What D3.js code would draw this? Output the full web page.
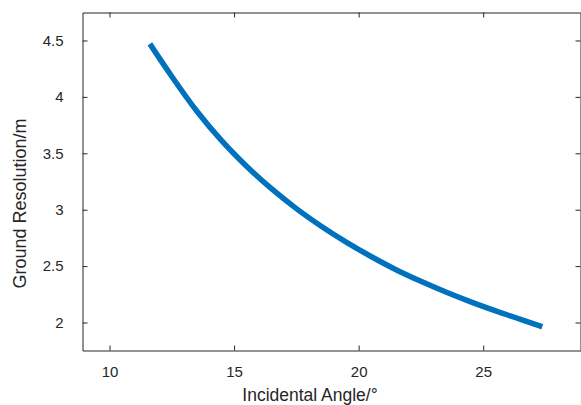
<!DOCTYPE html>
<html>
<head>
<meta charset="utf-8">
<script src="https://cdn.jsdelivr.net/npm/d3@7"></script>
<style>
  html, body { margin: 0; padding: 0; background: #fff; }
  text { font-family: "Liberation Sans", Arial, Helvetica, sans-serif; fill: #262626; }
</style>
</head>
<body>
<svg id="chart" width="581" height="405"></svg>
<script>
// Data
const angles = [11.62, 12.5, 13.5, 14.5, 15.5, 16.5, 17.5, 18.5, 19.5, 20.5, 21.5, 22.5, 23.5, 24.5, 25.5, 26.5, 27.37];
const resolution = [4.470, 4.181, 3.875, 3.612, 3.385, 3.186, 3.010, 2.854, 2.713, 2.585, 2.468, 2.365, 2.270, 2.183, 2.103, 2.028, 1.962];
const xTicks = [10, 15, 20, 25];
const yTicks = [2, 2.5, 3, 3.5, 4, 4.5];
const xTickLabels = ["10", "15", "20", "25"];
const yTickLabels = ["2", "2.5", "3", "3.5", "4", "4.5"];
const xLabel = "Incidental Angle/°";
const yLabel = "Ground Resolution/m";

(function () {
const svg = d3.select("#chart");
const L = 82.5, R = 580.5, T = 12.5, B = 350.5;

const x = d3.scaleLinear().domain([8.915, 28.906]).range([L, R]);
const y = d3.scaleLinear().domain([1.752, 4.748]).range([B, T]);

const axisColor = "#262626";
const tickLen = 5;

// Curve
const pts = angles.map((a, i) => [a, resolution[i]]);
svg.append("path")
  .datum(pts)
  .attr("d", d3.line().x(d => x(d[0])).y(d => y(d[1])).curve(d3.curveMonotoneX))
  .attr("fill", "none")
  .attr("stroke", "#0072BD")
  .attr("stroke-width", 5.5);

// Axes (box with inward ticks on all sides)
const gBottom = svg.append("g").attr("transform", `translate(0,${B})`)
  .call(d3.axisBottom(x).tickValues(xTicks).tickFormat((d, i) => xTickLabels[i]).tickSizeInner(-tickLen).tickSizeOuter(0).tickPadding(16));
const gTop = svg.append("g").attr("transform", `translate(0,${T})`)
  .call(d3.axisTop(x).tickValues(xTicks).tickFormat("").tickSizeInner(-tickLen).tickSizeOuter(0));
const gLeft = svg.append("g").attr("transform", `translate(${L},0)`)
  .call(d3.axisLeft(y).tickValues(yTicks).tickFormat((d, i) => yTickLabels[i]).tickSizeInner(-tickLen).tickSizeOuter(0).tickPadding(19));
const gRight = svg.append("g").attr("transform", `translate(${R},0)`)
  .call(d3.axisRight(y).tickValues(yTicks).tickFormat("").tickSizeInner(-tickLen).tickSizeOuter(0));

[gBottom, gTop, gLeft, gRight].forEach(g => {
  g.select(".domain").attr("stroke", axisColor).attr("stroke-width", 1);
  g.selectAll(".tick line").attr("stroke", axisColor).attr("stroke-width", 1);
  g.selectAll(".tick text")
    .attr("fill", axisColor)
    .style("font-family", '"Liberation Sans", Arial, Helvetica, sans-serif')
    .style("font-size", "15px");
});

// Axis labels
svg.append("text")
  .attr("x", 310).attr("y", 401)
  .attr("text-anchor", "middle")
  .style("font-size", "17.5px")
  .text(xLabel);

svg.append("text")
  .attr("transform", `translate(26,203.5) rotate(-90)`)
  .attr("text-anchor", "middle")
  .style("font-size", "18px")
  .text(yLabel);
})();
</script>
</body>
</html>
